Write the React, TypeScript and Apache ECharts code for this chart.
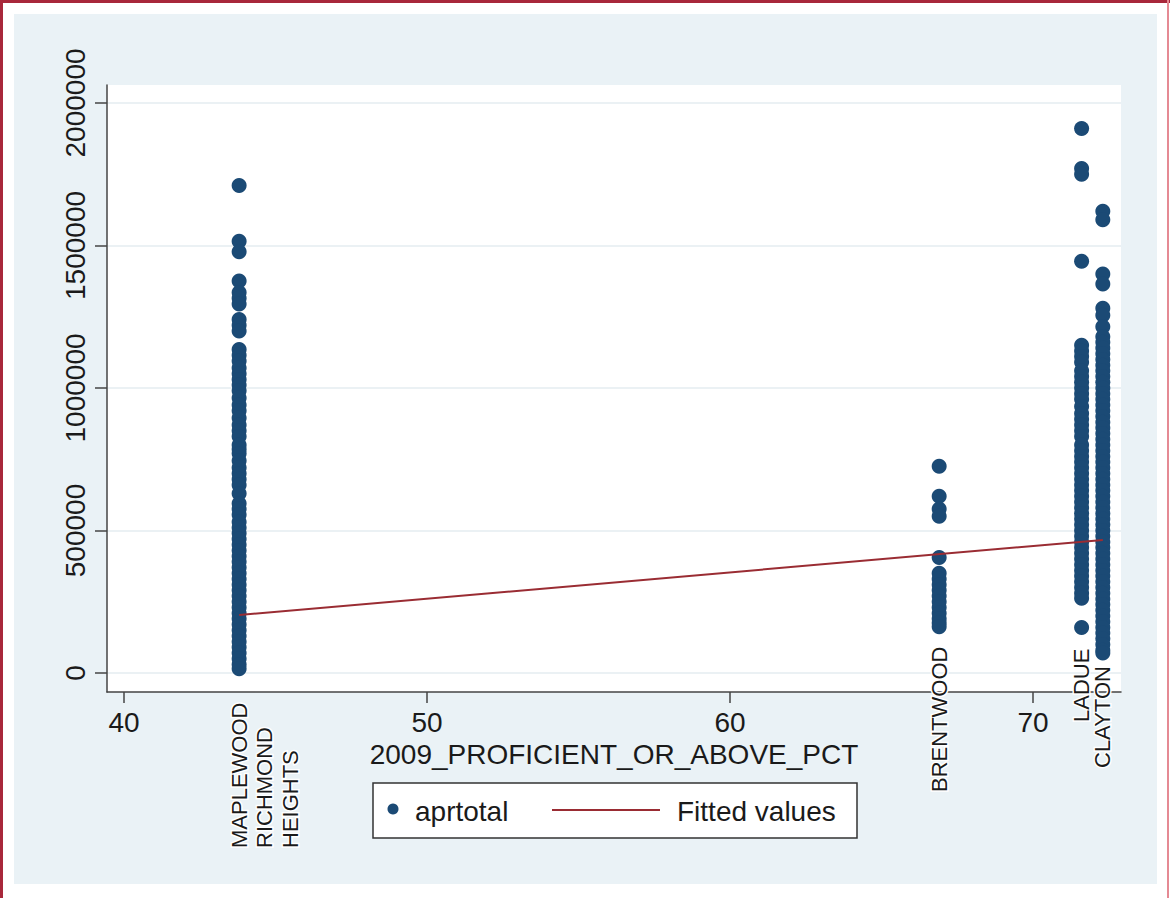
import React, { useEffect, useRef } from 'react';
import * as echarts from 'echarts';

// ---- tick values ----
const xTicks = [40, 50, 60, 70];
const yTicks = [0, 500000, 1000000, 1500000, 2000000];
const xAxisTitle = '2009_PROFICIENT_OR_ABOVE_PCT';

// ---- district proficiency (x) ----
const maplewoodPct = 43.8;
const brentwoodPct = 66.9;
const laduePct = 71.6;
const claytonPct = 72.3;

// ---- aprtotal values per district ----
const maplewoodApr = [
  1710000, 1515000, 1478000, 1375000, 1335000, 1315000, 1295000, 1240000, 1220000, 1200000,
  1135000, 1115000, 1095000, 1070000, 1050000, 1030000, 1010000, 990000, 965000, 940000,
  920000, 895000, 870000, 850000, 830000, 800000, 785000, 770000, 745000, 720000,
  700000, 680000, 660000, 630000, 595000, 575000, 555000, 530000, 510000, 490000,
  470000, 450000, 430000, 410000, 390000, 370000, 350000, 330000, 310000, 290000,
  270000, 250000, 230000, 210000, 190000, 170000, 150000, 130000, 110000, 90000,
  70000, 50000, 30000, 15000,
];
const brentwoodApr = [
  725000, 620000, 575000, 550000, 405000, 350000, 330000, 310000, 290000, 270000,
  250000, 230000, 210000, 190000, 175000, 162000,
];
const ladueApr = [
  1910000, 1770000, 1750000, 1445000, 1150000, 1130000, 1110000, 1090000, 1060000, 1040000,
  1020000, 1000000, 980000, 960000, 935000, 910000, 890000, 870000, 850000, 830000,
  800000, 780000, 760000, 740000, 720000, 700000, 680000, 660000, 640000, 620000,
  600000, 580000, 560000, 540000, 520000, 500000, 480000, 460000, 440000, 420000,
  400000, 380000, 360000, 340000, 320000, 300000, 280000, 262000, 160000,
];
const claytonApr = [
  1620000, 1590000, 1400000, 1365000, 1280000, 1255000, 1215000, 1180000, 1160000, 1140000,
  1120000, 1100000, 1080000, 1060000, 1040000, 1020000, 1000000, 980000, 960000, 940000,
  920000, 900000, 880000, 860000, 840000, 820000, 800000, 780000, 760000, 740000,
  720000, 700000, 680000, 660000, 640000, 620000, 600000, 580000, 560000, 540000,
  520000, 500000, 480000, 460000, 440000, 420000, 400000, 380000, 360000, 340000,
  320000, 300000, 280000, 260000, 240000, 220000, 200000, 180000, 160000, 140000,
  120000, 100000, 80000, 70000,
];

// ---- fitted values (endpoints of regression line) ----
const fittedX = [43.8, 72.3];
const fittedY = [203500, 466700];

// ---- series names / district labels ----
const seriesNames = ['aprtotal', 'Fitted values'];
const maplewoodLabels = ['MAPLEWOOD', 'RICHMOND', 'HEIGHTS'];
const brentwoodLabel = 'BRENTWOOD';
const ladueLabel = 'LADUE';
const claytonLabel = 'CLAYTON';

const FONT = '"Liberation Sans", Arial, Helvetica, sans-serif';
const DOT = '#1b4a75';
const FIT = '#9a2c33';
const TEXT = '#1a1a1a';

export default function App() {
  const ref = useRef<HTMLDivElement>(null);

  useEffect(() => {
    if (!ref.current) return;
    const chart = echarts.init(ref.current, undefined, { renderer: 'svg' });

    const scatterData: number[][] = [];
    maplewoodApr.forEach((v) => scatterData.push([maplewoodPct, v]));
    brentwoodApr.forEach((v) => scatterData.push([brentwoodPct, v]));
    ladueApr.forEach((v) => scatterData.push([laduePct, v]));
    claytonApr.forEach((v) => scatterData.push([claytonPct, v]));
    const fitData = fittedX.map((x, i) => [x, fittedY[i]]);

    chart.setOption({
      animation: false,
      backgroundColor: 'transparent',
      grid: {
        left: 107,
        right: 49,
        top: 85,
        bottom: 206,
        show: true,
        backgroundColor: '#ffffff',
        borderWidth: 0,
      },
      xAxis: {
        type: 'value',
        min: 39.44,
        max: 72.9,
        name: xAxisTitle,
        nameLocation: 'middle',
        nameGap: 42,
        nameTextStyle: { fontSize: 28, color: TEXT, fontFamily: FONT },
        axisLine: { show: true, onZero: false, lineStyle: { color: '#444', width: 1.5 } },
        axisTick: { show: true, length: 11, customValues: xTicks, lineStyle: { color: '#444', width: 1.5 } },
        axisLabel: { customValues: xTicks, fontSize: 28, color: TEXT, fontFamily: FONT, margin: 16 },
        splitLine: { show: false },
      },
      yAxis: {
        type: 'value',
        min: -66700,
        max: 2063000,
        axisLine: { show: true, onZero: false, lineStyle: { color: '#444', width: 1.5 } },
        axisTick: { show: true, length: 12, customValues: yTicks, lineStyle: { color: '#444', width: 1.5 } },
        axisLabel: {
          customValues: yTicks,
          rotate: 90,
          fontSize: 28,
          color: TEXT,
          fontFamily: FONT,
          margin: 18,
          formatter: (v: number) => String(Math.round(v)),
        },
        splitLine: { show: true, lineStyle: { color: '#e4ecf1', width: 1.5 } },
      },
      series: [
        {
          name: seriesNames[0],
          type: 'scatter',
          data: scatterData,
          symbolSize: 15,
          itemStyle: { color: DOT, opacity: 1 },
          z: 2,
        },
        {
          name: seriesNames[1],
          type: 'line',
          data: fitData,
          showSymbol: false,
          symbol: 'none',
          lineStyle: { color: FIT, width: 2 },
          z: 3,
        },
      ],
    });

    const px = (v: number) => chart.convertToPixel({ gridIndex: 0 }, [v, 0])[0];
    const vText = (text: string, x: number, yStart: number) => ({
      type: 'text',
      x,
      y: yStart,
      rotation: Math.PI / 2,
      z: 10,
      style: {
        text,
        fontSize: 22,
        fontFamily: FONT,
        fill: TEXT,
        align: 'left',
        verticalAlign: 'middle',
        stroke: '#ffffff',
        lineWidth: 3,
      },
    });

    const mx = px(maplewoodPct);
    const graphics: any[] = [
      vText(maplewoodLabels[0], mx, 848),
      vText(maplewoodLabels[1], mx + 25, 848),
      vText(maplewoodLabels[2], mx + 51, 848),
      vText(brentwoodLabel, px(brentwoodPct), 792),
      vText(ladueLabel, px(laduePct), 722),
      vText(claytonLabel, px(claytonPct), 768),
      // legend
      {
        type: 'rect',
        shape: { x: 373, y: 783, width: 484, height: 55 },
        style: { fill: '#ffffff', stroke: '#333', lineWidth: 1.5 },
        z: 10,
      },
      { type: 'circle', shape: { cx: 393, cy: 809, r: 5.5 }, style: { fill: DOT }, z: 11 },
      {
        type: 'text', x: 415, y: 811, z: 11,
        style: { text: seriesNames[0], fontSize: 28, fontFamily: FONT, fill: TEXT, align: 'left', verticalAlign: 'middle' },
      },
      { type: 'line', shape: { x1: 552, y1: 810, x2: 660, y2: 810 }, style: { stroke: FIT, lineWidth: 2 }, z: 11 },
      {
        type: 'text', x: 677, y: 811, z: 11,
        style: { text: seriesNames[1], fontSize: 28, fontFamily: FONT, fill: TEXT, align: 'left', verticalAlign: 'middle' },
      },
    ];
    chart.setOption({ graphic: graphics });

    return () => chart.dispose();
  }, []);

  return (
    <div style={{ position: 'fixed', left: 0, top: 0, width: 1170, height: 898, background: '#ffffff', overflow: 'hidden' }}>
      <div style={{ position: 'absolute', left: 0, top: 0, width: 3, height: 898, background: '#a8283b' }} />
      <div style={{ position: 'absolute', left: 0, top: 0, width: 1170, height: 3, background: '#a8283b' }} />
      <div style={{ position: 'absolute', left: 1167, top: 0, width: 2, height: 898, background: '#e58a94' }} />
      <div style={{ position: 'absolute', left: 14, top: 14, width: 1143, height: 870, background: '#eaf2f6' }} />
      <div ref={ref} style={{ position: 'absolute', left: 0, top: 0, width: 1170, height: 898 }} />
    </div>
  );
}
